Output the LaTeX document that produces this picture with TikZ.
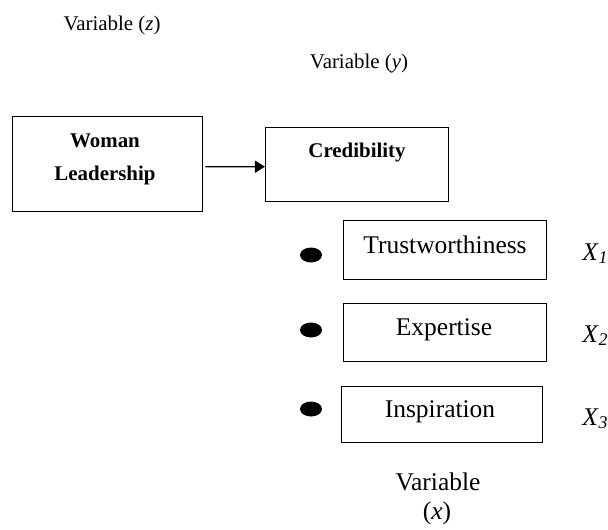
\documentclass[tikz,border=0pt]{standalone}
\usepackage{fontspec}
\setmainfont{Liberation Serif}
\usetikzlibrary{arrows.meta,shapes.geometric}

\begin{document}
\begin{tikzpicture}[x=0.02cm,y=-0.02cm,
  box/.style={draw, line width=0.8pt, inner sep=0, anchor=north west},
  small/.style={inner sep=0, anchor=base, font=\fontsize{11.9}{14}\selectfont},
  big/.style={inner sep=0, anchor=base, font=\fontsize{14.5}{17}\selectfont},
  dot/.style={ellipse, fill, inner sep=0, minimum width=0.44cm, minimum height=0.3cm}]
\useasboundingbox (0,0) rectangle (608,529);

\node[small] (varz) at (112,30) {Variable (\textit{z})};
\node[small] (vary) at (359,68) {Variable (\textit{y})};

\node[box, minimum width=3.8cm,  minimum height=1.9cm]  (lead)  at (12,116) {};
\node[box, minimum width=3.66cm, minimum height=1.48cm] (cred)  at (265,127) {};
\node[box, minimum width=4.06cm, minimum height=1.18cm] (trust) at (343,220) {};
\node[box, minimum width=4.06cm, minimum height=1.16cm] (exp)   at (343,303) {};
\node[box, minimum width=4.02cm, minimum height=1.12cm] (insp)  at (341,386) {};

\node[small, font=\fontsize{11.9}{14}\selectfont\bfseries] (leadA) at (105,147) {Woman};
\node[small, font=\fontsize{11.9}{14}\selectfont\bfseries] (leadB) at (105,180) {Leadership};
\node[small, font=\fontsize{11.9}{14}\selectfont\bfseries] (credT) at (357,157) {Credibility};

\node[big] (trustT) at (445,253) {Trustworthiness};
\node[big] (expT)   at (444,335) {Expertise};
\node[big] (inspT)  at (440,417) {Inspiration};

\draw[line width=0.75pt, -{Triangle[length=5.7pt,width=6.8pt]}]
  ([xshift=0.04cm,yshift=-0.05cm]lead.east) -- ([yshift=-0.04cm]cred.west);

\node[dot] (d1) at (311,255) {};
\node[dot] (d2) at (311,330) {};
\node[dot] (d3) at (311,409) {};

\node[big, anchor=base west] (x1) at (582,260) {\textit{X}\textsubscript{\textit{1}}};
\node[big, anchor=base west] (x2) at (582,342) {\textit{X}\textsubscript{\textit{2}}};
\node[big, anchor=base west] (x3) at (582,425) {\textit{X}\textsubscript{\textit{3}}};

\node[big] (varx)  at (438,490) {Variable};
\node[big] (varxb) at (437,519) {(\textit{x})};
\end{tikzpicture}
\end{document}
